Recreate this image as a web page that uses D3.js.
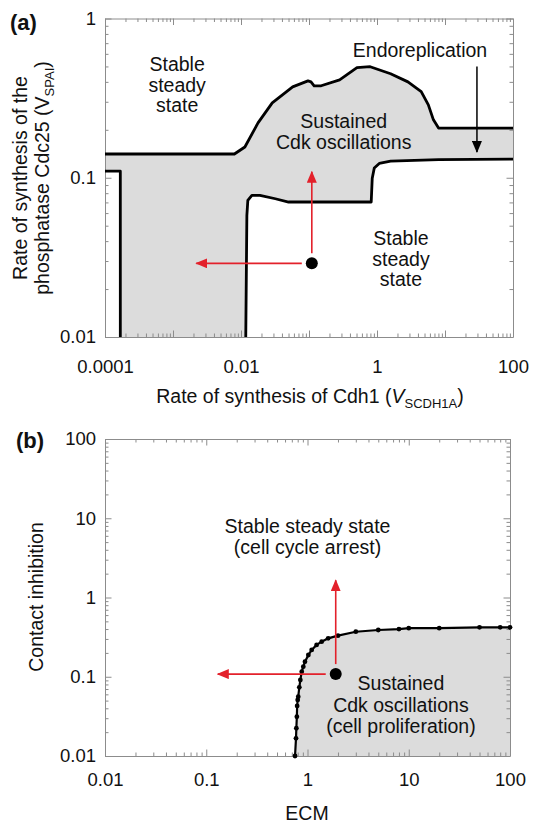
<!DOCTYPE html>
<html>
<head>
<meta charset="utf-8">
<script src="https://cdn.jsdelivr.net/npm/d3@7/dist/d3.min.js"></script>
<style>
body { margin: 0; background: #fff; }
svg text { font-family: "Liberation Sans", Arial, Helvetica, sans-serif; }
</style>
</head>
<body>
<svg id="chart" width="533" height="823"></svg>
<script>
// ---- panel (a): boundaries of the oscillation domain ----
var upperX = [0.0001, 0.008, 0.0114, 0.0178, 0.0288, 0.0575, 0.0966, 0.107, 0.119, 0.151, 0.282, 0.507, 0.794, 1.585, 2.85, 4.47, 5.69, 6.76, 8.04, 100];
var upperY = [0.141, 0.141, 0.156, 0.221, 0.295, 0.372, 0.406, 0.40, 0.378, 0.378, 0.412, 0.491, 0.498, 0.45, 0.40, 0.347, 0.287, 0.231, 0.205, 0.205];

var lowerX = [100, 8.04, 1.585, 1.08, 0.912, 0.851, 0.822, 0.0501, 0.032, 0.019, 0.01445, 0.0126, 0.0122, 0.01175];
var lowerY = [0.131, 0.130, 0.127, 0.123, 0.115, 0.0993, 0.0704, 0.0704, 0.0738, 0.0776, 0.0776, 0.072, 0.058, 0.01];

var leftX = [0.0001, 0.000168, 0.000168];
var leftY = [0.110, 0.110, 0.01];

var aXTicks = [0.0001, 0.01, 1, 100];
var aXTickLabels = ["0.0001", "0.01", "1", "100"];
var aYTicks = [0.01, 0.1, 1];
var aYTickLabels = ["0.01", "0.1", "1"];

// starting point and the two perturbation arrows
var aPoint = [0.11, 0.029];
var aArrowUp = [0.11, 0.109];
var aArrowLeft = [0.0022, 0.029];
var endoArrow = [[29.5, 0.50], [29.5, 0.145]];

// ---- panel (b): ECM vs contact inhibition ----
var ecm = [0.753, 0.77, 0.776, 0.785, 0.79, 0.80, 0.81, 0.83, 0.85, 0.877, 0.909, 0.944, 1.02, 1.1, 1.23, 1.38, 1.6, 2.0, 3.0, 5.0, 8.0, 10, 20, 50, 80, 100];
var contact = [0.01, 0.0167, 0.0224, 0.0313, 0.0428, 0.051, 0.056, 0.0736, 0.091, 0.116, 0.134, 0.155, 0.188, 0.218, 0.252, 0.277, 0.305, 0.33, 0.37, 0.389, 0.40, 0.41, 0.41, 0.42, 0.42, 0.42];

var bTicks = [0.01, 0.1, 1, 10, 100];
var bTickLabels = ["0.01", "0.1", "1", "10", "100"];

var bPoint = [1.9, 0.108];
var bArrowUp = [1.9, 1.65];
var bArrowLeft = [0.13, 0.108];

var FONT = "'Liberation Sans', Arial, Helvetica, sans-serif";
var GREY = "#dcdcdc";
var RED = "#e3212b";

var svg = d3.select("#chart");

var defs = svg.append("defs");
function marker(id, color) {
    defs.append("marker")
        .attr("id", id)
        .attr("markerUnits", "userSpaceOnUse")
        .attr("viewBox", "0 0 12 10")
        .attr("refX", 11).attr("refY", 5)
        .attr("markerWidth", 12).attr("markerHeight", 10)
        .attr("orient", "auto")
        .append("path")
        .attr("d", "M0,0 L12,5 L0,10 z")
        .attr("fill", color);
}
marker("redHead", RED);
marker("blackHead", "#000");

function zip(xs, ys) {
    return xs.map(function(d, i) { return [d, ys[i]]; });
}

// decade ticks and the 2..9 minor ticks of a log scale
function decades(s) {
    var d = s.domain(), out = [];
    for (var k = Math.round(Math.log10(d[0])); k <= Math.round(Math.log10(d[1])); k++) out.push(Math.pow(10, k));
    return out;
}
function minors(s) {
    var d = s.domain(), out = [];
    for (var k = Math.round(Math.log10(d[0])); k < Math.round(Math.log10(d[1])); k++)
        for (var m = 2; m <= 9; m++) out.push(m * Math.pow(10, k));
    return out;
}
function labelFor(vals, labels) {
    return function(d) {
        for (var i = 0; i < vals.length; i++)
            if (Math.abs(Math.log10(vals[i]) - Math.log10(d)) < 1e-6) return labels[i];
        return "";
    };
}

// box with inward ticks on all four sides
function drawFrame(xs, ys, xVals, xLabels, yVals, yLabels, xPad, yPad) {
    var x0 = xs.range()[0], x1 = xs.range()[1];
    var y0 = ys.range()[0], y1 = ys.range()[1];
    var sides = [
        [d3.axisBottom, xs, "translate(0," + y0 + ")", labelFor(xVals, xLabels), xPad],
        [d3.axisTop, xs, "translate(0," + y1 + ")", null, 0],
        [d3.axisLeft, ys, "translate(" + x0 + ",0)", labelFor(yVals, yLabels), yPad],
        [d3.axisRight, ys, "translate(" + x1 + ",0)", null, 0]
    ];
    sides.forEach(function(s) {
        var minor = svg.append("g").attr("transform", s[2])
            .call(s[0](s[1]).tickValues(minors(s[1])).tickSize(-3.5).tickSizeOuter(0).tickFormat(""));
        minor.select(".domain").remove();
        minor.attr("color", "#8c8c8c");
        var major = svg.append("g").attr("transform", s[2])
            .call(s[0](s[1]).tickValues(decades(s[1])).tickSize(-6.5).tickSizeOuter(0)
                .tickPadding(s[4]).tickFormat(s[3] || function() { return ""; }));
        major.attr("color", "#8c8c8c")
            .attr("font-family", FONT)
            .attr("font-size", 18.5);
        major.selectAll("text").attr("fill", "#111");
    });
}

var lineGen = function(xs, ys) {
    return d3.line().x(function(d) { return xs(d[0]); }).y(function(d) { return ys(d[1]); });
};

// multi-line centred text; first baseline at (x, y)
function label(x, y, lines, gap) {
    var t = svg.append("text")
        .attr("text-anchor", "middle")
        .attr("font-size", 19.5)
        .attr("fill", "#111");
    lines.forEach(function(l, i) {
        t.append("tspan").attr("x", x).attr("y", y + i * gap).text(l);
    });
}

/* ================= panel (a) ================= */
var xa = d3.scaleLog().domain([1e-4, 100]).range([105, 513]);
var ya = d3.scaleLog().domain([0.01, 1]).range([337, 18.5]);
var la = lineGen(xa, ya);

var upper = zip(upperX, upperY);
var lower = zip(lowerX, lowerY);
var left = zip(leftX, leftY);

// grey oscillation domain
svg.append("path")
    .attr("d", la(upper.concat(lower).concat(left.slice().reverse())) + "Z")
    .attr("fill", GREY)
    .attr("stroke", "none");

drawFrame(xa, ya, aXTicks, aXTickLabels, aYTicks, aYTickLabels, 23, 9);

[upper, lower, left].forEach(function(pts) {
    svg.append("path")
        .attr("d", la(pts))
        .attr("fill", "none")
        .attr("stroke", "#000")
        .attr("stroke-width", 2.8)
        .attr("stroke-linejoin", "round");
});

// red perturbation arrows
svg.append("line")
    .attr("x1", xa(aPoint[0])).attr("y1", ya(aPoint[1]) - 10)
    .attr("x2", xa(aArrowUp[0])).attr("y2", ya(aArrowUp[1]))
    .attr("stroke", RED).attr("stroke-width", 1.6)
    .attr("marker-end", "url(#redHead)");
svg.append("line")
    .attr("x1", xa(aPoint[0]) - 10).attr("y1", ya(aPoint[1]))
    .attr("x2", xa(aArrowLeft[0])).attr("y2", ya(aArrowLeft[1]))
    .attr("stroke", RED).attr("stroke-width", 1.6)
    .attr("marker-end", "url(#redHead)");
svg.append("circle")
    .attr("cx", xa(aPoint[0])).attr("cy", ya(aPoint[1]))
    .attr("r", 6).attr("fill", "#000");

// endoreplication pointer
svg.append("line")
    .attr("x1", xa(endoArrow[0][0])).attr("y1", ya(endoArrow[0][1]))
    .attr("x2", xa(endoArrow[1][0])).attr("y2", ya(endoArrow[1][1]))
    .attr("stroke", "#000").attr("stroke-width", 1.5)
    .attr("marker-end", "url(#blackHead)");

label(xa(0.00115), ya(0.467), ["Stable", "steady", "state"], 20.5);
label(xa(0.324), ya(0.205), ["Sustained", "Cdk oscillations"], 21);
label(xa(4.29), ya(0.569), ["Endoreplication"], 20);
label(xa(2.25), ya(0.0378), ["Stable", "steady", "state"], 20.5);

// axis titles (a)
var xta = svg.append("text")
    .attr("x", 310).attr("y", 403)
    .attr("text-anchor", "middle").attr("font-size", 19.5).attr("fill", "#111");
xta.append("tspan").text("Rate of synthesis of Cdh1 (");
xta.append("tspan").attr("font-style", "italic").text("V");
xta.append("tspan").attr("font-size", 13).attr("dy", 5).text("SCDH1A");
xta.append("tspan").attr("dy", -5).text(")");

var yta = svg.append("text")
    .attr("transform", "translate(0,178) rotate(-90)")
    .attr("text-anchor", "middle").attr("font-size", 19.5).attr("fill", "#111");
yta.append("tspan").attr("x", 0).attr("y", 27).text("Rate of synthesis of the");
var yl2 = yta.append("tspan").attr("x", 0).attr("y", 49);
yl2.append("tspan").text("phosphatase Cdc25 (V");
yl2.append("tspan").attr("font-size", 13).attr("dy", 5).text("SPAI");
yl2.append("tspan").attr("dy", -5).text(")");

svg.append("text").attr("x", 10).attr("y", 30)
    .attr("font-size", 22).attr("font-weight", "bold").attr("fill", "#111").text("(a)");

/* ================= panel (b) ================= */
var xb = d3.scaleLog().domain([0.01, 100]).range([105, 510]);
var yb = d3.scaleLog().domain([0.01, 100]).range([756, 439]);
var lb = lineGen(xb, yb);

var curve = zip(ecm, contact);

svg.append("path")
    .attr("d", lb(curve.concat([[ecm[ecm.length - 1], bTicks[0]]])) + "Z")
    .attr("fill", GREY)
    .attr("stroke", "none");

drawFrame(xb, yb, bTicks, bTickLabels, bTicks, bTickLabels, 17, 9);

svg.append("path")
    .attr("d", lb(curve))
    .attr("fill", "none")
    .attr("stroke", "#000")
    .attr("stroke-width", 2.2);

svg.selectAll("circle.pt")
    .data(curve)
    .enter().append("circle")
    .attr("class", "pt")
    .attr("cx", function(d) { return xb(d[0]); })
    .attr("cy", function(d) { return yb(d[1]); })
    .attr("r", 2.4)
    .attr("fill", "#000");

svg.append("line")
    .attr("x1", xb(bPoint[0])).attr("y1", yb(bPoint[1]) - 10)
    .attr("x2", xb(bArrowUp[0])).attr("y2", yb(bArrowUp[1]))
    .attr("stroke", RED).attr("stroke-width", 1.6)
    .attr("marker-end", "url(#redHead)");
svg.append("line")
    .attr("x1", xb(bPoint[0]) - 10).attr("y1", yb(bPoint[1]))
    .attr("x2", xb(bArrowLeft[0])).attr("y2", yb(bArrowLeft[1]))
    .attr("stroke", RED).attr("stroke-width", 1.6)
    .attr("marker-end", "url(#redHead)");
svg.append("circle")
    .attr("cx", xb(bPoint[0])).attr("cy", yb(bPoint[1]))
    .attr("r", 6).attr("fill", "#000");

label(xb(1.0), yb(6.46), ["Stable steady state", "(cell cycle arrest)"], 20.7);
label(xb(8.37), yb(0.068), ["Sustained", "Cdk oscillations", "(cell proliferation)"], 21.5);

svg.append("text")
    .attr("x", 307).attr("y", 820)
    .attr("text-anchor", "middle").attr("font-size", 19.5).attr("fill", "#111")
    .text("ECM");

svg.append("text")
    .attr("transform", "translate(43,597) rotate(-90)")
    .attr("text-anchor", "middle").attr("font-size", 19.5).attr("fill", "#111")
    .text("Contact inhibition");

svg.append("text").attr("x", 16).attr("y", 448)
    .attr("font-size", 22).attr("font-weight", "bold").attr("fill", "#111").text("(b)");
</script>
</body>
</html>
